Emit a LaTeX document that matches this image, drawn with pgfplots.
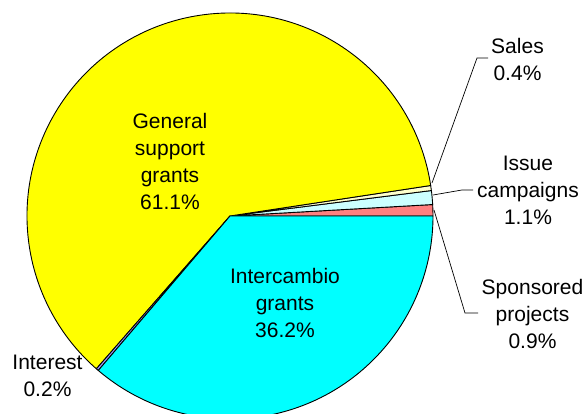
\documentclass[border=0pt]{standalone}
\usepackage{pgfplots}
\usepackage{pgfplotstable}
\pgfplotsset{compat=1.18}
\usepackage{fontspec}
\setmainfont{Liberation Sans}
\definecolor{c0}{HTML}{FF8080}
\definecolor{c1}{HTML}{CCFFFF}
\definecolor{c2}{HTML}{FFFFCC}
\definecolor{c3}{HTML}{FFFF00}
\definecolor{c4}{HTML}{9999FF}
\definecolor{c5}{HTML}{00FFFF}
\newcommand\lbl{\fontsize{21}{27}\selectfont}
\pgfplotstableread{
label value
Sponsored 0.9
Issue 1.1
Sales 0.4
General 61.1
Interest 0.2
Intercambio 36.2
}\piedata
\begin{document}
\begin{tikzpicture}
\def\tot{0}
\pgfplotsforeachungrouped \i in {0,...,5}{%
  \pgfplotstablegetelem{\i}{value}\of\piedata
  \pgfmathsetmacro\tot{\tot+\pgfplotsretval}%
}
\def\cum{0}
\pgfplotsforeachungrouped \i in {0,...,5}{%
  \pgfplotstablegetelem{\i}{value}\of\piedata
  \pgfmathsetmacro\s{\cum/\tot*360}%
  \pgfmathsetmacro\cum{\cum+\pgfplotsretval}%
  \pgfmathsetmacro\e{\cum/\tot*360}%
  \expandafter\global\expandafter\let\csname sa\i\endcsname\s
  \expandafter\global\expandafter\let\csname ea\i\endcsname\e
}
\begin{axis}[x=1pt, y=1pt, xmin=0, xmax=587, ymin=0, ymax=414,
  y dir=reverse, hide axis, clip=true]
\pgfplotsinvokeforeach{0,...,5}{
  \filldraw[fill=c#1, draw=black, line width=0.9pt, line join=round]
    (axis cs:230,216) -- ++(\csname sa#1\endcsname:203pt)
    arc[start angle=\csname sa#1\endcsname, end angle=\csname ea#1\endcsname, radius=203pt] -- cycle;
}
\draw[black, line width=0.7pt] (axis cs:432,183) -- (axis cs:477,58) -- (axis cs:488,58);
\draw[black, line width=0.7pt] (axis cs:433,195) -- (axis cs:462,190) -- (axis cs:473,190);
\draw[black, line width=0.7pt] (axis cs:434,210) -- (axis cs:465,313) -- (axis cs:478,313);
\node[anchor=north, align=center, inner sep=0pt, font=\lbl] at (axis cs:170,113) {General\\support\\grants\\61.1\%};
\node[anchor=north, align=center, inner sep=0pt, font=\lbl] at (axis cs:285,268) {Intercambio\\grants\\36.2\%};
\node[anchor=north, align=center, inner sep=0pt, font=\lbl] at (axis cs:47.5,355) {Interest\\0.2\%};
\node[anchor=north, align=center, inner sep=0pt, font=\lbl] at (axis cs:517.5,38) {Sales\\0.4\%};
\node[anchor=north, align=center, inner sep=0pt, font=\lbl] at (axis cs:528,156) {Issue\\campaigns\\1.1\%};
\node[anchor=north, align=center, inner sep=0pt, font=\lbl] at (axis cs:532.5,279) {Sponsored\\projects\\0.9\%};
\end{axis}
\pgfresetboundingbox
\useasboundingbox (current axis.south west) rectangle (current axis.north east);
\end{tikzpicture}
\end{document}
